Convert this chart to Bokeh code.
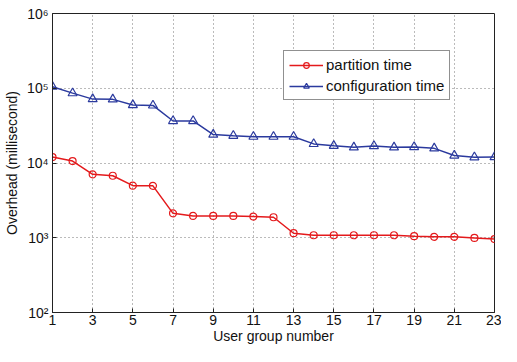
from bokeh.plotting import figure
from bokeh.models import Legend, LegendItem, FixedTicker
from bokeh.embed import file_html
from bokeh.resources import INLINE

groups = list(range(1, 24))
partition_time = [12000, 10600, 7050, 6750, 4980, 4950, 2120, 1960, 1960, 1960, 1920, 1880,
                  1150, 1080, 1080, 1080, 1080, 1080, 1050, 1030, 1030, 995, 960]
configuration_time = [105000, 86000, 71600, 71000, 59600, 59000, 36500, 36500, 24000, 23200,
                      22500, 22500, 22500, 18000, 17000, 16200, 16900, 16200, 16400, 15700,
                      12600, 11950, 12000]
x_ticks = [1, 3, 5, 7, 9, 11, 13, 15, 17, 19, 21, 23]
y_ticks = [100, 1000, 10000, 100000, 1000000]
y_labels = {100: "10²", 1000: "10³", 10000: "10⁴", 100000: "10⁵", 1000000: "10⁶"}

RED = "#e41a1c"
BLUE = "#2b3a9e"
FONT = "Liberation Sans"

p = figure(width=501, height=346, output_backend="svg", toolbar_location=None,
           y_axis_type="log", x_range=(1, 23), y_range=(100, 1000000),
           min_border_left=49, min_border_right=7, min_border_top=13, min_border_bottom=30)
p.outline_line_color = "#222222"
p.outline_line_width = 1

p.xaxis.ticker = FixedTicker(ticks=x_ticks)
p.yaxis.ticker = FixedTicker(ticks=y_ticks, minor_ticks=[])
p.yaxis.major_label_overrides = y_labels

for ax in (p.xaxis, p.yaxis):
    ax.major_label_text_font = FONT
    ax.major_label_text_font_size = "14px"
    ax.major_label_text_color = "#111111"
    ax.axis_label_text_font = FONT
    ax.axis_label_text_font_size = "14px"
    ax.axis_label_text_font_style = "normal"
    ax.axis_label_text_color = "#111111"
    ax.major_tick_in = 4
    ax.major_tick_out = 0
    ax.minor_tick_in = 0
    ax.minor_tick_out = 0
    ax.axis_line_color = "#222222"
    ax.major_tick_line_color = "#222222"

p.xaxis.axis_label = "User group number"
p.yaxis.axis_label = "Overhead (millisecond)"
p.xaxis.major_label_standoff = 2
p.xaxis.axis_label_standoff = 0
p.yaxis.major_label_standoff = 4
p.yaxis.axis_label_standoff = 4

p.grid.grid_line_color = "#777777"
p.grid.grid_line_dash = "1 3"
p.grid.grid_line_width = 1

r1 = p.line(groups, partition_time, line_color=RED, line_width=1.5)
r1m = p.scatter(groups, partition_time, marker="circle", size=7, line_color=RED,
                fill_color=None, line_width=1.2)
r2 = p.line(groups, configuration_time, line_color=BLUE, line_width=1.5)
r2m = p.scatter(groups, configuration_time, marker="triangle", size=9, line_color=BLUE,
                fill_color=None, line_width=1.2)

legend = Legend(items=[LegendItem(label="partition time", renderers=[r1, r1m]),
                       LegendItem(label="configuration time", renderers=[r2, r2m])],
                location=(231, 212))
legend.label_text_font = FONT
legend.label_text_font_size = "15px"
legend.label_text_color = "#111111"
legend.border_line_color = "#222222"
legend.border_line_width = 1
legend.glyph_width = 34
legend.glyph_height = 14
legend.label_height = 14
legend.spacing = 4
legend.padding = 5
legend.margin = 0
legend.label_standoff = 3
legend.background_fill_alpha = 1
p.add_layout(legend, "center")

open("out.html", "w").write(file_html(p, INLINE))
